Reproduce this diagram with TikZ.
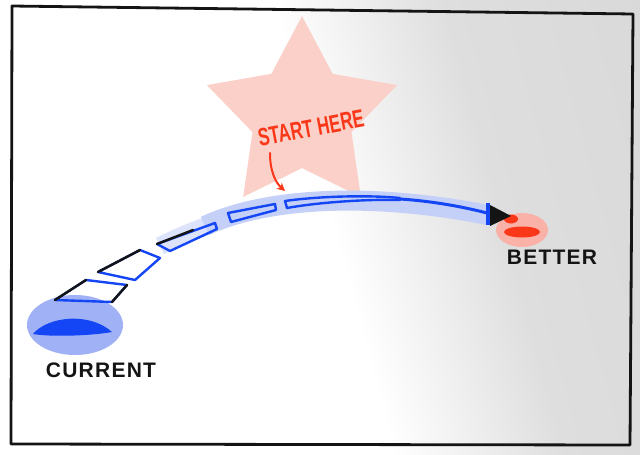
\documentclass[tikz,border=0pt]{standalone}
\usepackage{fontspec}
\setmainfont{Liberation Sans}
\usepackage{graphicx}
\usetikzlibrary{
  arrows.meta,
  shapes.geometric
}
\definecolor{pen}{RGB}{20,20,20}
\definecolor{penblue}{RGB}{20,70,245}
\definecolor{haloblue}{RGB}{160,178,245}
\definecolor{bandblue}{RGB}{196,208,248}
\definecolor{penred}{RGB}{250,55,25}
\definecolor{halored}{RGB}{250,178,168}
\definecolor{starpink}{RGB}{250,208,200}
\pgfdeclarehorizontalshading{paper}{100bp}{color(0bp)=(white); color(51bp)=(white); color(65bp)=(black!13); color(100bp)=(black!17)}

\begin{document}
\begin{tikzpicture}[
  x=1pt, y=-1pt,
  halo/.style={ellipse, inner sep=0pt},
  penlabel/.style={
    font=\fontsize{21}{21}\selectfont\bfseries\addfontfeature{LetterSpace=6},
    text=pen, inner sep=0pt
  },
  sketch/.style={draw=pen, line width=2.4pt, line cap=round, line join=round},
  stepbox/.style={draw=penblue, line width=2.4pt, line cap=round, line join=round},
  redpen/.style={draw=penred, line width=2pt, line cap=round},
]
\useasboundingbox (0,0) rectangle (640,455);

% Paper and frame
\shade[shading=paper, shading angle=15] (0,0) rectangle (640,455);
\draw[sketch, line width=2.8pt] (12,6) -- (633,14) -- (630,445) -- (11,444) -- cycle;

% Star behind everything
\node[star, star points=5, star point ratio=1.92, minimum size=200pt,
  inner sep=0pt, fill=starpink] (star) at (302,116) {};

% Start and goal
\node[halo, fill=haloblue, minimum width=96pt, minimum height=60pt] (current) at (75,325) {};
\fill[penblue] (33,334) .. controls (48,316) and (90,312) .. (112,332)
  .. controls (90,336) and (50,337) .. (33,334);
\node[halo, fill=halored, minimum width=52pt, minimum height=34pt] (better) at (522,230) {};
\fill[penred] (522,232) ellipse [x radius=18, y radius=5.5];
\fill[penred] (511,219) ellipse [x radius=7, y radius=4.5];

% Light band under the arrow
\draw[bandblue!60, line width=18pt] (160,246) .. controls (180,236) and (195,230) .. (210,225);
\draw[bandblue, line width=20pt] (205,226) .. controls (260,200) and (360,190) .. (488,215);

% Steps of the path
\draw[stepbox] (55,300) -- (112,302) -- (127,285) -- (86,280) -- cycle;
\draw[sketch] (86,280) -- (55,300);
\draw[sketch] (112,302) -- (127,285);
\draw[stepbox] (98,272) -- (135,280) -- (160,258) -- (140,250) -- cycle;
\draw[sketch] (98,272) -- (140,250);
\draw[stepbox] (157,244) -- (170,251) -- (217,229) -- (215,223) -- cycle;
\draw[sketch] (157,244) -- (193,230);
\draw[stepbox] (228,213) -- (231,222) -- (276,210) -- (275,204) -- cycle;

% Last long step and arrow
\draw[stepbox] (287,208) -- (285,201) .. controls (320,196) and (370,195) .. (400,198);
\draw[stepbox] (287,208) .. controls (320,202) and (370,199) .. (400,200);
\draw[stepbox, line width=3pt] (400,199) .. controls (430,201) and (460,206) .. (487,213);
\draw[penblue, line width=4pt] (488,203) -- (488,225);
\fill[pen] (490,205) -- (511,216) -- (490,226) -- cycle;

% Labels
\node[font=\fontsize{25}{25}\selectfont\bfseries, text=penred, rotate=10.6, inner sep=0pt]
  (start) at (311,128) {\scalebox{0.68}[1]{START HERE}};
\coordinate (tail) at (270,153);
\coordinate (hit) at (285,191);
\draw[redpen, -{Stealth[length=8pt,width=8pt]}] (tail) .. controls (270,172) and (276,183) .. (hit);
\node[penlabel] (curlabel) at (101,370) {CURRENT};
\node[penlabel] (betlabel) at (552,257) {BETTER};

\end{tikzpicture}
\end{document}
